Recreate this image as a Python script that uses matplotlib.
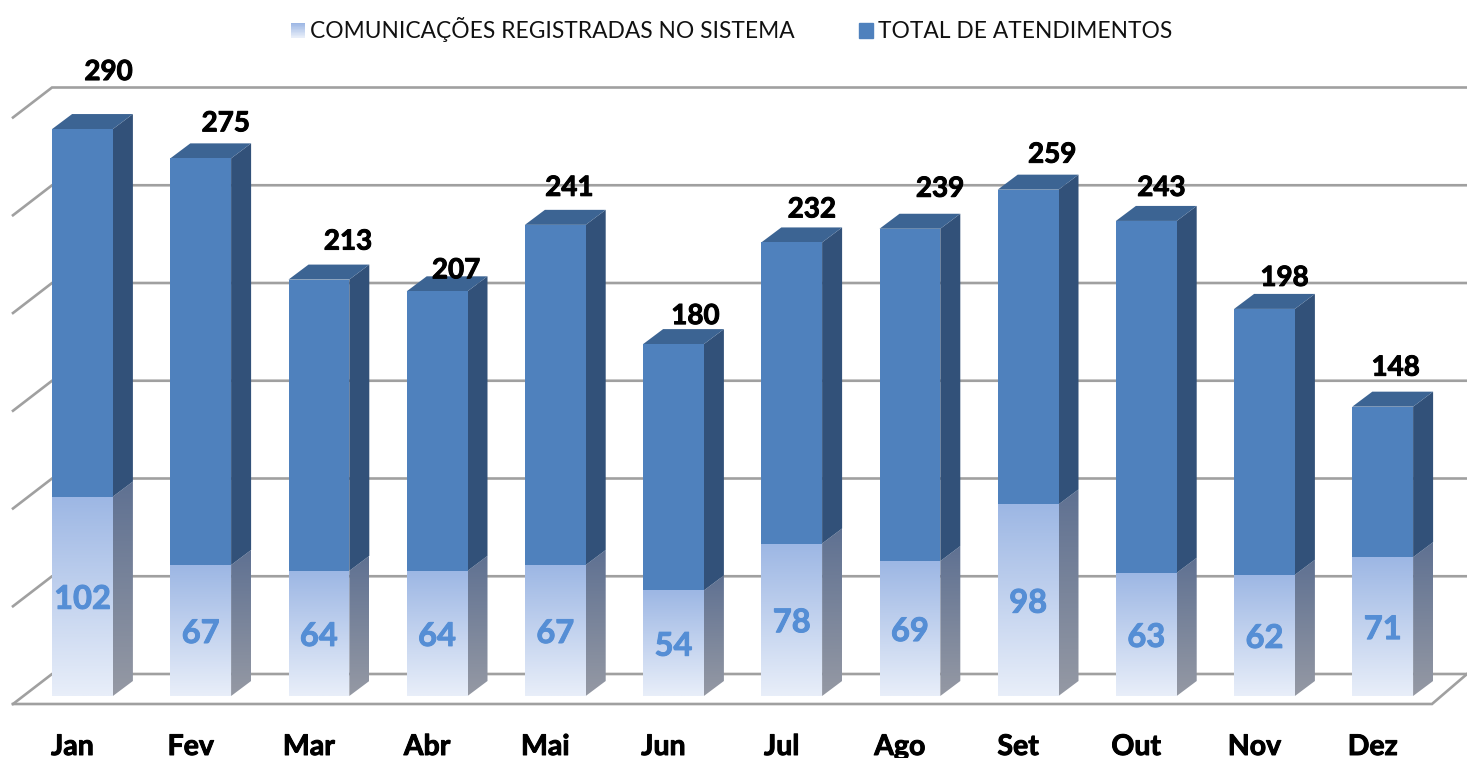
import numpy as np
import matplotlib
matplotlib.use("Agg")
import matplotlib.pyplot as plt
import matplotlib.patheffects as pe
from matplotlib.colors import to_rgb
from matplotlib.legend_handler import HandlerBase
from matplotlib.patches import Patch, Polygon, Rectangle

months = ["Jan", "Fev", "Mar", "Abr", "Mai", "Jun", "Jul", "Ago", "Set", "Out", "Nov", "Dez"]
comunicacoes = [102, 67, 64, 64, 67, 54, 78, 69, 98, 63, 62, 71]
total_atend = [290, 275, 213, 207, 241, 180, 232, 239, 259, 243, 198, 148]
grid_values = [0, 50, 100, 150, 200, 250, 300]
series_names = ["COMUNICAÇÕES REGISTRADAS NO SISTEMA", "TOTAL DE ATENDIMENTOS"]

# label nudges in pixels (dx, dy) relative to the top-centre of the bar's front face
total_dx = [26, 25, 29, 19, 14, 22, 20, 30, 24, 15, 20, 13]
total_dy = [57, 35, 38, 21, 37, 28, 33, 40, 35, 33, 31, 39]

W, H = 1467, 758
PX_X = 118.2
PX_Y = 1.955
X0 = 82.5
Y0 = 696
plt.rcParams["font.family"] = ["Lato", "DejaVu Sans"]

fig = plt.figure(figsize=(W / 100, H / 100), dpi=100)
ax = fig.add_axes([0, 0, 1, 1])
xlim = (-X0 / PX_X, (W - X0) / PX_X)
ylim = ((Y0 - H) / PX_Y, Y0 / PX_Y)
ax.axis("off")

dx = 20 / PX_X
dy = 15 / PX_Y
half = 30.4 / PX_X
GRID = "#a0a0a0"
front_off = -8 / PX_Y
back_off = 22 / PX_Y
x_front = (13 - X0) / PX_X
x_back = (52 - X0) / PX_X
x_right_front = (1432 - X0) / PX_X
x_right_back = (1467 - X0) / PX_X

for v in grid_values:
    ax.plot([x_front, x_back, x_right_back], [v + front_off, v + back_off, v + back_off],
            color=GRID, lw=1.9, solid_joinstyle="miter", zorder=1)
ax.plot([x_front, x_right_front, x_right_back], [front_off, front_off, back_off],
        color=GRID, lw=1.9, solid_joinstyle="miter", zorder=1)


def gradient(poly, top, bottom, z):
    t, b = np.array(to_rgb(top)), np.array(to_rgb(bottom))
    arr = np.linspace(b, t, 64).reshape(64, 1, 3)
    xs, ys = zip(*poly)
    im = ax.imshow(arr, extent=(min(xs), max(xs), min(ys), max(ys)), origin="lower",
                   aspect="auto", interpolation="bilinear", zorder=z)
    clip = Polygon(poly, closed=True, transform=ax.transData, fc="none", ec="none")
    ax.add_patch(clip)
    im.set_clip_path(clip)


def bold(color, width=0.7):
    return [pe.withStroke(linewidth=width, foreground=color)]


for i, (lo, tot) in enumerate(zip(comunicacoes, total_atend)):
    l, r = i - half, i + half
    z = 3 + i * 0.01
    gradient([(l, 0), (r, 0), (r, lo), (l, lo)], "#9db7e4", "#e8eef9", z + 0.002)
    gradient([(r, 0), (r + dx, dy), (r + dx, lo + dy), (r, lo)], "#5f7192", "#9599a4", z)
    ax.add_patch(Polygon([(r, lo), (r + dx, lo + dy), (r + dx, tot + dy), (r, tot)],
                         fc="#325179", ec="none", zorder=z + 0.001))
    ax.add_patch(Polygon([(l, tot), (r, tot), (r + dx, tot + dy), (l + dx, tot + dy)],
                         fc="#3c6493", ec="none", zorder=z + 0.001))
    ax.bar(i, tot - lo, bottom=lo, width=2 * half, color="#4f81bd", zorder=z + 0.003)
    ax.text(i, lo / 2 - 3 / PX_Y, str(lo), color="#558ed5", fontsize=23.5, fontweight="bold",
            ha="center", va="center", zorder=6, path_effects=bold("#558ed5"))
    ax.text(i + total_dx[i] / PX_X, tot + total_dy[i] / PX_Y, str(tot), color="black",
            fontsize=20, fontweight="bold", ha="center", va="center", zorder=7,
            path_effects=bold("black"))
    ax.text(i - 10 / PX_X, (Y0 - 747) / PX_Y, months[i], color="black", fontsize=20.5,
            fontweight="bold", ha="center", va="center", zorder=7, path_effects=bold("black"))


class GradientHandler(HandlerBase):
    def create_artists(self, legend, orig, xd, yd, width, height, fontsize, trans):
        n = 24
        top = np.array(to_rgb("#9db7e4"))
        bot = np.array(to_rgb("#e8eef9"))
        out = []
        for k in range(n):
            c = bot + (top - bot) * k / (n - 1)
            out.append(Rectangle((-xd, -yd + height * k / n), width, height / n + 0.3,
                                 fc=c, ec="none", transform=trans))
        return out


h_low = Patch(label=series_names[0])
h_tot = Patch(color="#4f81bd", label=series_names[1])
ax.legend(handles=[h_low, h_tot], handler_map={h_low: GradientHandler()}, ncol=2, frameon=False,
          loc="center", bbox_to_anchor=(731.5 / W, 1 - 30 / H), bbox_transform=fig.transFigure,
          fontsize=16.4, handlelength=0.62, handleheight=0.6, handletextpad=0.22,
          columnspacing=2.8, borderpad=0, labelcolor="#111111")

ax.set_xlim(xlim)
ax.set_ylim(ylim)
fig.savefig("out.png", dpi=100)
